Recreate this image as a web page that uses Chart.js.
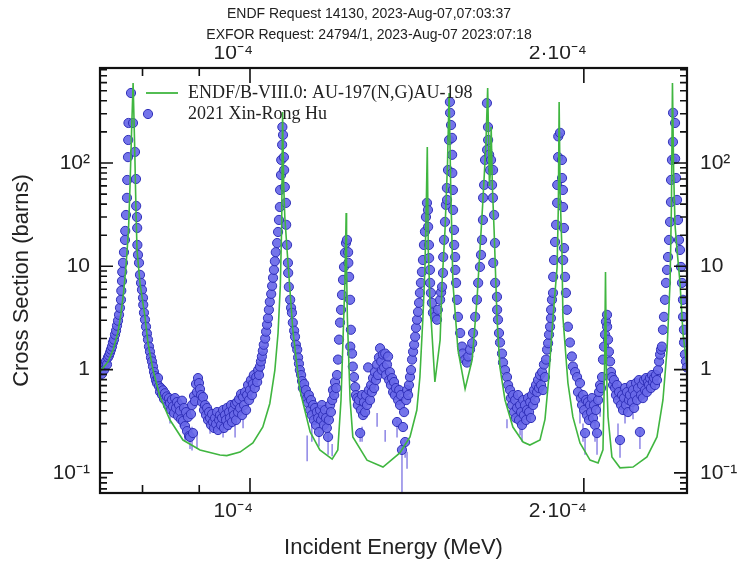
<!DOCTYPE html>
<html lang="en">
<head>
    <meta charset="UTF-8">
    <title>Au-197 (n,g) cross section</title>
    <script src="https://cdn.jsdelivr.net/npm/chart.js@4.4.1/dist/chart.umd.min.js"></script>
    <style>
        html, body { margin: 0; padding: 0; background: #fff; }
        #wrap { width: 738px; height: 563px; }
    </style>
</head>
<body>
<div id="wrap"><canvas id="plot" width="738" height="563"></canvas></div>
<script>
// header lines and labels
const headerLines = ['ENDF Request 14130, 2023-Aug-07,07:03:37', 'EXFOR Request: 24794/1, 2023-Aug-07 2023:07:18'];
const endfLabel = 'ENDF/B-VIII.0: AU-197(N,G)AU-198';
const exforLabel = '2021 Xin-Rong Hu';

// axis ranges (MeV, barns)
const xRange = [7.324e-5, 2.4777e-4];
const yRange = [0.0639, 831];
const xMajorTicks = [1e-4, 2e-4];
const xMajorLabels = ['10⁻⁴', '2·10⁻⁴'];
const xMinorTicks = [8e-5, 9e-5];
const yMajorTicks = [0.1, 1, 10, 100];
const yMajorLabels = ['10⁻¹', '1', '10', '10²'];

// ENDF/B-VIII.0 evaluated curve, energy in eV, cross section in barns
const endfEnergyEv = [
    73.24, 74.5, 75.25, 76.03, 76.5, 76.9, 77.3, 77.7, 77.95, 78.2, 78.45, 78.7, 78.9, 79.09, 79.58,
    80.41, 80.91, 81.76, 82.96, 84.70, 87.01, 90.14, 93.96, 95.3, 97.95, 100.6, 102.7, 104.2, 105.3,
    106.0, 106.5, 106.8, 107.0, 107.25, 107.5, 108.0, 109.3, 110.9, 113.3, 115.6, 118.6, 120.0, 120.8,
    121.3, 121.8, 122.1, 122.2, 122.4, 123.1, 123.8, 127.5, 131.8, 136.5, 139.4, 141.4, 142.3, 143.2,
    143.8, 144.2, 144.5, 144.8, 145.3, 146.8, 148.4, 149.0, 149.9, 150.7, 151.2, 151.7, 152.4, 154.0,
    156.3, 158.6, 160.2, 161.2, 162.2, 163.2, 163.8, 164.4, 164.7, 165.0, 165.4, 166.0, 167.0, 168.0,
    169.8, 172.6, 176.3, 178.8, 182.6, 184.5, 185.8, 187.6, 189.2, 189.7, 190.0, 190.4, 191.1, 191.5,
    193.5, 195.5, 198.4, 202.6, 206.0, 208.1, 208.8, 209.2, 209.6, 210.3, 212.0, 215.6, 221.5, 228.0,
    232.8, 235.7, 237.7, 239.2, 239.9, 240.4, 241.0, 241.7, 242.7, 244.2, 245.7, 247.77
];
const endfSigma = [
    0.95, 1.2, 1.55, 2.3, 3.5, 5.5, 10, 22, 60, 200, 595, 150, 40, 14.4, 6.89,
    3.23, 1.81, 0.99, 0.543, 0.325, 0.208, 0.167, 0.149, 0.147, 0.159, 0.195, 0.278, 0.47, 0.99,
    2.26, 6.5, 25, 312, 60, 30, 14.4, 2.43, 0.635, 0.249, 0.167, 0.136, 0.167, 0.508,
    1.94, 7.4, 32.8, 10, 3.23, 0.508, 0.223, 0.133, 0.114, 0.156, 0.223, 0.406, 0.848, 3.23,
    9.85, 40, 143, 14.4, 4.72, 0.759, 1.94, 6.89, 22, 100, 476, 60, 6.89, 1.548,
    0.649, 1.239, 4.72, 14.4, 44, 150, 532, 60, 80, 223, 60, 22.5, 3.23, 1.06,
    0.508, 0.278, 0.199, 0.186, 0.208, 0.33, 0.75, 3.23, 9.85, 40, 390, 50, 14.4, 3.23,
    0.742, 0.348, 0.195, 0.133, 0.125, 0.167, 1.06, 8.81, 1.0, 0.348, 0.143, 0.112, 0.114, 0.143,
    0.223, 0.508, 1.548, 6.89, 40, 595, 80, 25, 14.4, 6.89, 2.26, 1.06
];

// EXFOR 24794 data points, energy in eV, cross section in barns
const dataEnergyEv = [
    73.24, 73.39, 73.54, 73.69, 73.85, 74.00, 74.15, 74.31, 74.46, 74.62,
    74.78, 74.93, 75.09, 75.24, 75.40, 75.56, 75.72, 75.87, 76.03, 76.19,
    76.34, 76.50, 76.55, 76.66, 76.70, 76.82, 76.98, 77.14, 77.18, 77.30,
    77.46, 77.50, 77.62, 77.66, 77.70, 78.11, 78.43, 78.76, 78.92, 78.95,
    79.09, 79.12, 79.15, 79.25, 79.42, 79.58, 79.75, 79.91, 80.08, 80.12,
    80.24, 80.41, 80.58, 80.74, 80.91, 81.08, 81.25, 81.42, 81.59, 81.76,
    81.93, 82.10, 82.27, 82.44, 82.61, 82.79, 82.96, 83.13, 83.30, 83.47,
    83.65, 83.82, 84.00, 84.17, 84.35, 84.52, 84.70, 84.88, 85.05, 85.23,
    85.41, 85.58, 85.76, 85.94, 86.12, 86.30, 86.48, 86.66, 86.84, 87.01,
    87.20, 87.38, 87.56, 87.74, 87.92, 88.11, 88.29, 88.47, 88.66, 88.84,
    89.03, 89.21, 89.40, 89.58, 89.77, 89.95, 90.14, 90.33, 90.51, 90.70,
    90.89, 91.09, 91.28, 91.47, 91.66, 91.85, 92.04, 92.23, 92.43, 92.62,
    92.81, 93.00, 93.20, 93.39, 93.58, 93.78, 93.97, 94.17, 94.36, 94.56,
    94.75, 94.95, 95.15, 95.34, 95.54, 95.74, 95.94, 96.14, 96.34, 96.54,
    96.74, 96.95, 97.15, 97.35, 97.55, 97.76, 97.96, 98.16, 98.37, 98.57,
    98.78, 98.98, 99.19, 99.40, 99.60, 99.81, 100.0, 100.2, 100.4, 100.6,
    100.8, 101.0, 101.3, 101.5, 101.7, 101.9, 102.1, 102.3, 102.5, 102.7,
    102.9, 103.2, 103.4, 103.6, 103.8, 104.0, 104.2, 104.5, 104.7, 104.9,
    105.1, 105.3, 105.5, 105.8, 106.0, 106.2, 106.4, 106.45, 106.65, 106.7,
    106.9, 106.95, 107.1, 107.3, 107.35, 107.5, 107.75, 107.8, 108.0, 108.2,
    108.25, 108.4, 108.7, 108.9, 109.1, 109.3, 109.6, 109.8, 110.0, 110.3,
    110.5, 110.7, 110.9, 111.2, 111.4, 111.6, 111.9, 112.1, 112.3, 112.6,
    112.8, 113.0, 113.3, 113.5, 113.7, 114.0, 114.2, 114.45, 114.7, 114.9,
    115.2, 115.4, 115.65, 115.9, 116.1, 116.4, 116.6, 116.85, 117.1, 117.3,
    117.6, 117.8, 118.1, 118.3, 118.6, 118.8, 119.1, 119.3, 119.6, 119.8,
    120.05, 120.3, 120.55, 120.8, 121.05, 121.3, 121.55, 121.8, 122.05, 122.3,
    122.6, 122.65, 122.85, 123.1, 123.3, 123.15, 123.6, 123.8, 124.1, 124.4,
    124.6, 124.9, 125.1, 125.4, 125.7, 125.9, 126.2, 126.45, 126.7, 127.0,
    127.25, 127.5, 127.8, 128.0, 128.3, 128.6, 128.8, 129.1, 129.4, 129.6,
    129.9, 130.2, 130.45, 130.7, 131.0, 131.3, 131.5, 131.8, 132.1, 132.4,
    132.6, 132.9, 133.2, 133.5, 133.7, 134.0, 134.3, 134.6, 134.85, 135.1,
    135.4, 135.7, 136.0, 136.3, 136.55, 136.8, 137.1, 137.4, 137.7, 138.0,
    138.3, 138.55, 138.85, 139.1, 139.4, 139.7, 140.0, 140.3, 140.6, 140.9,
    141.15, 141.45, 141.75, 142.05, 142.3, 142.6, 142.9, 143.2, 143.5, 143.8,
    144.1, 144.4, 144.7, 144.75, 145.0, 145.05, 145.3, 145.35, 145.6, 145.9,
    146.2, 146.8, 147.45, 147.7, 148.4, 148.7, 149.0, 149.3, 149.35, 149.6,
    149.9, 150.2, 150.5, 150.55, 150.85, 151.2, 151.5, 151.45, 151.8, 152.1,
    152.15, 152.2, 152.4, 152.45, 152.75, 152.8, 153.1, 153.15, 153.4, 153.7,
    154.0, 154.7, 155.3, 155.6, 156.3, 156.9, 157.3, 157.9, 158.6, 158.9,
    159.6, 160.2, 160.6, 161.2, 161.55, 161.9, 162.2, 162.25, 162.6, 162.9,
    163.6, 163.55, 163.9, 163.95, 164.3, 164.6, 164.95, 165.3, 165.6, 165.65,
    166.0, 166.3, 165.7, 166.35, 167.0, 167.05, 167.35, 167.7, 168.05, 168.75,
    169.1, 169.8, 170.5, 170.9, 171.6, 171.9, 172.3, 172.65, 173.0, 173.4,
    173.7, 174.1, 174.45, 174.8, 175.2, 175.55, 175.9, 176.3, 176.6, 177.0,
    177.4, 177.75, 178.1, 178.5, 178.9, 179.2, 179.6, 180.0, 180.35, 180.7,
    181.1, 181.5, 181.85, 182.2, 182.6, 183.0, 183.4, 183.75, 184.1, 184.5,
    184.9, 185.3, 185.7, 186.05, 186.45, 186.8, 186.85, 187.2, 187.6, 187.65,
    188.0, 188.4, 188.8, 189.2, 189.25, 189.6, 189.65, 190.35, 191.1, 191.15,
    191.5, 191.55, 191.95, 191.9, 191.6, 192.35, 192.7, 193.1, 193.5, 194.3,
    195.1, 195.5, 196.4, 197.2, 197.6, 198.4, 198.8, 199.25, 199.65, 200.1,
    200.5, 200.9, 201.3, 201.7, 202.15, 202.6, 203.0, 203.4, 203.85, 204.25,
    204.7, 205.1, 205.55, 206.0, 206.4, 206.85, 207.3, 207.7, 208.1, 208.55,
    209.0, 209.4, 209.85, 209.9, 210.3, 210.7, 211.2, 211.6, 212.0, 212.5,
    212.9, 213.4, 213.8, 214.25, 214.7, 215.15, 215.6, 216.05, 216.5, 216.95,
    217.4, 217.85, 218.3, 218.75, 219.2, 219.65, 220.1, 220.6, 221.05, 221.5,
    222.0, 222.4, 222.9, 223.35, 223.8, 224.25, 224.7, 225.2, 225.7, 226.1,
    226.6, 227.1, 227.55, 228.0, 228.5, 229.0, 229.45, 229.9, 230.4, 230.9,
    231.4, 231.85, 232.3, 232.8, 233.3, 233.8, 234.3, 234.75, 235.2, 235.7,
    236.2, 236.7, 237.2, 237.7, 238.2, 238.7, 239.2, 239.65, 239.7, 240.15,
    240.65, 240.7, 241.7, 241.75, 242.2, 242.7, 243.2, 243.7, 244.2, 244.7,
    245.2, 245.7, 245.75, 246.2, 246.25, 246.7, 247.2, 247.7
];
const dataSigma = [
    0.95, 0.99, 0.91, 1.10, 0.99, 1.14, 1.20, 1.12, 1.31, 1.37,
    1.46, 1.56, 1.67, 1.83, 1.95, 2.18, 2.38, 2.66, 2.97, 3.39,
    3.96, 4.74, 5.8, 7.2, 8.83, 10.8, 13.7, 18.0, 22.0, 31.4,
    46.0, 68.5, 114, 167, 244, 476, 244, 128, 70, 38.4,
    30, 23.5, 16.1, 12.9, 10.8, 8.26, 6.91, 5.92, 4.95, 4.24,
    3.55, 3.04, 2.60, 2.23, 1.95, 1.67, 1.49, 1.31, 1.20, 1.07,
    0.95, 0.866, 0.79, 0.74, 0.83, 0.69, 0.61, 0.66, 0.57, 0.63,
    0.52, 0.59, 0.50, 0.55, 0.45, 0.53, 0.475, 0.41, 0.51, 0.44,
    0.38, 0.53, 0.425, 0.485, 0.355, 0.454, 0.397, 0.33, 0.50, 0.318,
    0.425, 0.284, 0.388, 0.254, 0.347, 0.228, 0.223, 0.371, 0.454, 0.243,
    0.555, 0.496, 0.725, 0.606, 0.828, 0.741, 0.648, 0.567, 0.485, 0.542,
    0.406, 0.454, 0.363, 0.425, 0.325, 0.388, 0.340, 0.291, 0.371, 0.311,
    0.272, 0.340, 0.297, 0.388, 0.260, 0.325, 0.363, 0.291, 0.340, 0.406,
    0.272, 0.363, 0.325, 0.425, 0.291, 0.388, 0.340, 0.454, 0.311, 0.406,
    0.363, 0.464, 0.325, 0.485, 0.388, 0.519, 0.425, 0.580, 0.363, 0.542,
    0.454, 0.606, 0.406, 0.567, 0.709, 0.507, 0.634, 0.792, 0.567, 0.725,
    0.886, 0.663, 0.847, 0.758, 0.99, 0.886, 1.07, 1.20, 1.34, 1.52,
    1.74, 2.0, 2.33, 2.72, 3.15, 3.79, 4.53, 5.4, 6.46, 7.73,
    9.23, 11.2, 13.7, 16.8, 21.5, 28.1, 37.5, 54.8, 76.5, 107,
    150, 223, 187, 114, 85.5, 58.6, 41.1, 25.2, 16.1, 10.8,
    8.63, 6.32, 4.74, 3.96, 3.55, 2.85, 2.38, 2.08, 1.74, 1.56,
    1.31, 1.14, 0.99, 0.886, 0.775, 0.663, 0.725, 0.580, 0.634, 0.530,
    0.475, 0.567, 0.406, 0.507, 0.363, 0.454, 0.325, 0.425, 0.291, 0.388,
    0.340, 0.249, 0.406, 0.325, 0.454, 0.363, 0.291, 0.406, 0.340, 0.272,
    0.223, 0.325, 0.454, 0.388, 0.507, 0.634, 0.567, 0.758, 0.663, 0.886,
    1.25, 1.95, 2.85, 3.79, 5.29, 7.39, 9.86, 13.5, 16.8, 18.0,
    13.7, 10.8, 7.9, 4.74, 2.43, 1.67, 1.43, 1.07, 0.847, 0.678,
    0.567, 0.530, 0.454, 0.507, 0.243, 0.406, 0.567, 0.363, 0.485, 0.388,
    0.567, 0.454, 1.05, 0.634, 0.507, 0.709, 0.606, 0.828, 0.663, 0.947,
    0.792, 1.12, 0.886, 1.31, 1.61, 1.20, 0.99, 1.40, 1.05, 1.43,
    0.886, 1.12, 1.34, 0.792, 0.947, 0.709, 0.828, 0.606, 0.758, 0.567,
    0.663, 0.311, 0.507, 0.634, 0.454, 0.567, 0.167, 0.278, 0.388, 0.199,
    0.507, 0.634, 0.567, 0.709, 0.847, 0.99, 1.25, 1.49, 1.74, 2.08,
    2.54, 3.04, 3.62, 4.43, 5.53, 6.91, 8.83, 11.5, 16.1, 21.6,
    30.0, 41.1, 35.1, 24.1, 16.1, 12.0, 9.23, 6.91, 5.53, 4.43,
    3.55, 3.24, 3.04, 3.79, 4.74, 5.6, 6.32, 8.63, 12.3, 18.0,
    26.9, 39.3, 57.3, 43.9, 85.5, 167, 306, 390, 233, 175,
    120, 80.0, 54.8, 35.1, 22.5, 16.1, 12.3, 9.23, 6.91, 4.74,
    3.24, 2.26, 1.67, 1.43, 1.25, 1.17, 1.34, 1.56, 1.80, 2.26,
    3.24, 4.74, 6.91, 9.86, 12.9, 18.0, 28.1, 46.0, 61.3, 107,
    134, 380, 223, 167, 120, 85.5, 107, 61.3, 46.0, 85.5,
    31.4, 16.8, 10.8, 6.91, 5.06, 3.79, 3.04, 2.26, 1.83, 1.43,
    1.17, 0.99, 0.847, 0.709, 0.634, 0.530, 0.454, 0.567, 0.388, 0.507,
    0.340, 0.425, 0.567, 0.325, 0.454, 0.388, 0.291, 0.507, 0.363, 0.454,
    0.325, 0.406, 0.530, 0.388, 0.485, 0.340, 0.567, 0.454, 0.634, 0.507,
    0.709, 0.606, 0.792, 0.663, 0.886, 0.709, 0.947, 0.634, 1.12, 0.847,
    1.25, 1.56, 1.80, 2.18, 2.60, 3.15, 3.79, 4.74, 5.53, 7.9,
    11.5, 17.2, 25.2, 41.1, 61.3, 114, 181, 196, 107, 71.6,
    54.8, 37.5, 15.0, 23.5, 11.5, 7.9, 5.53, 3.79, 2.60, 1.83,
    1.34, 1.07, 0.947, 0.847, 0.606, 0.741, 0.530, 0.454, 0.567, 0.406,
    0.243, 0.507, 0.363, 0.485, 0.325, 0.454, 0.388, 0.530, 0.340, 0.454,
    0.291, 0.406, 0.243, 0.507, 0.606, 0.709, 0.663, 0.847, 1.25, 1.67,
    2.18, 2.91, 3.39, 2.60, 1.95, 1.49, 1.20, 0.947, 0.847, 0.709,
    0.792, 0.663, 0.567, 0.709, 0.507, 0.606, 0.208, 0.454, 0.567, 0.406,
    0.530, 0.663, 0.454, 0.606, 0.388, 0.507, 0.567, 0.709, 0.485, 0.634,
    0.425, 0.567, 0.741, 0.507, 0.663, 0.792, 0.249, 0.567, 0.709, 0.530,
    0.792, 0.634, 0.828, 0.606, 0.758, 0.709, 0.828, 0.663, 0.886, 0.758,
    0.828, 0.709, 0.886, 0.792, 0.99, 1.20, 1.40, 1.56, 1.67, 2.43,
    3.24, 4.74, 6.91, 9.23, 12.3, 18.0, 26.9, 41.9, 68.5, 107,
    160, 306, 244, 110, 71.6, 43.9, 28.1, 18.0, 14.4, 9.86,
    6.91, 4.74, 3.24, 2.43, 1.83, 1.40, 1.20, 1.05
];

// visible uncertainty bars: energy (eV), lower and upper ends (barns)
const barEnergyEv = [84.70, 86.48, 87.38, 88.29, 88.66, 89.58, 92.04, 93.97, 94.56, 95.94, 96.95, 98.57,
    112.6, 113.7, 115.4, 117.6, 118.6, 125.7, 126.2, 130.2, 132.4, 135.7, 137.1, 138.0, 138.55,
    170.5, 175.2, 175.9, 198.4, 199.65, 200.5, 204.7, 205.55, 206.85, 214.7, 215.6, 217.85, 221.5, 224.7];
const barLow = [0.30, 0.28, 0.20, 0.17, 0.165, 0.17, 0.24, 0.24, 0.22, 0.26, 0.22, 0.27,
    0.13, 0.20, 0.18, 0.15, 0.145, 0.20, 0.20, 0.28, 0.20, 0.22, 0.065, 0.14, 0.11,
    0.27, 0.23, 0.20, 0.30, 0.20, 0.15, 0.20, 0.15, 0.35, 0.20, 0.14, 0.30, 0.33, 0.17];
const barHigh = [0.42, 0.40, 0.29, 0.26, 0.28, 0.25, 0.35, 0.33, 0.30, 0.35, 0.30, 0.33,
    0.23, 0.30, 0.26, 0.24, 0.19, 0.26, 0.28, 0.38, 0.26, 0.32, 0.20, 0.21, 0.16,
    0.33, 0.32, 0.30, 0.40, 0.30, 0.25, 0.33, 0.24, 0.50, 0.30, 0.21, 0.45, 0.45, 0.26];

const MEV = 1e-6;
const endfPoints = endfEnergyEv.map((e, i) => ({ x: e * MEV, y: endfSigma[i] }));
const dataPoints = dataEnergyEv.map((e, i) => ({ x: e * MEV, y: dataSigma[i] }));

const SANS = "'Liberation Sans', Arial, sans-serif";
const SERIF = "'Liberation Serif', 'Times New Roman', serif";
const GREEN = 'rgb(64,182,64)';
const DOT_FILL = 'rgba(104,104,232,0.92)';
const DOT_EDGE = 'rgb(48,48,185)';

function yMinorTicks() {
    const out = [];
    [0.01, 0.1, 1, 10, 100].forEach(d => {
        for (let m = 2; m <= 9; m++) {
            const v = d * m;
            if (v > yRange[0] && v < yRange[1]) out.push(v);
        }
    });
    return out;
}

function setTicks(values) {
    return scale => { scale.ticks = values.map(v => ({ value: v })); };
}
function labelFor(values, labels) {
    return v => {
        const i = values.findIndex(t => Math.abs(t - v) / t < 1e-6);
        return i >= 0 ? labels[i] : '';
    };
}

// error bars under the markers
const errorBars = {
    id: 'errorBars',
    beforeDatasetsDraw(chart) {
        const { ctx, scales: { x, y }, chartArea: a } = chart;
        ctx.save();
        ctx.beginPath();
        ctx.rect(a.left, a.top, a.right - a.left, a.bottom - a.top);
        ctx.clip();
        ctx.strokeStyle = 'rgba(120,110,225,0.85)';
        ctx.lineWidth = 1.5;
        barEnergyEv.forEach((e, i) => {
            const px = x.getPixelForValue(e * MEV);
            ctx.beginPath();
            ctx.moveTo(px, y.getPixelForValue(barHigh[i]));
            ctx.lineTo(px, y.getPixelForValue(barLow[i]));
            ctx.stroke();
        });
        ctx.restore();
    }
};

// frame with inward ticks on all four sides, plus the legend box
const frameAndLegend = {
    id: 'frameAndLegend',
    afterDraw(chart) {
        const { ctx, chartArea: a, scales } = chart;
        ctx.save();
        ctx.strokeStyle = '#111';
        ctx.lineWidth = 1.6;
        const yTick = (v, len) => {
            const p = scales.y.getPixelForValue(v);
            if (p < a.top || p > a.bottom) return;
            ctx.beginPath();
            ctx.moveTo(a.left, p); ctx.lineTo(a.left + len, p);
            ctx.moveTo(a.right, p); ctx.lineTo(a.right - len, p);
            ctx.stroke();
        };
        const xTick = (v, len) => {
            const p = scales.x.getPixelForValue(v);
            if (p < a.left || p > a.right) return;
            ctx.beginPath();
            ctx.moveTo(p, a.bottom); ctx.lineTo(p, a.bottom - len);
            ctx.moveTo(p, a.top); ctx.lineTo(p, a.top + len);
            ctx.stroke();
        };
        yMinorTicks().forEach(v => yTick(v, 7));
        yMajorTicks.forEach(v => yTick(v, 13));
        xMinorTicks.forEach(v => xTick(v, 8));
        xMajorTicks.forEach(v => xTick(v, 15));
        ctx.lineWidth = 2.2;
        ctx.strokeRect(a.left, a.top, a.right - a.left, a.bottom - a.top);

        // legend
        const lx = a.left + 46, ly1 = a.top + 25, ly2 = a.top + 46;
        ctx.strokeStyle = GREEN;
        ctx.lineWidth = 1.8;
        ctx.beginPath();
        ctx.moveTo(lx, ly1); ctx.lineTo(lx + 32, ly1);
        ctx.stroke();
        ctx.fillStyle = DOT_FILL;
        ctx.strokeStyle = DOT_EDGE;
        ctx.lineWidth = 1;
        ctx.beginPath();
        ctx.arc(lx + 2, ly2, 4.6, 0, Math.PI * 2);
        ctx.fill(); ctx.stroke();
        ctx.fillStyle = '#222';
        ctx.font = '18px ' + SERIF;
        ctx.textBaseline = 'middle';
        ctx.textAlign = 'left';
        ctx.fillText(chart.data.datasets[0].label, lx + 42, ly1);
        ctx.fillText(chart.data.datasets[1].label, lx + 42, ly2);
        ctx.restore();
    }
};

const tickFont = { family: SANS, size: 21 };

new Chart(document.getElementById('plot'), {
    data: {
        datasets: [
            {
                type: 'line',
                label: endfLabel,
                data: endfPoints,
                borderColor: GREEN,
                borderWidth: 1.6,
                pointRadius: 0,
                tension: 0,
                fill: false,
                order: 0
            },
            {
                type: 'scatter',
                label: exforLabel,
                data: dataPoints,
                backgroundColor: DOT_FILL,
                borderColor: DOT_EDGE,
                borderWidth: 1,
                pointRadius: 4.6,
                clip: 0,
                order: 1
            }
        ]
    },
    options: {
        responsive: false,
        animation: false,
        devicePixelRatio: 1,
        layout: { padding: 0 },
        plugins: {
            legend: { display: false },
            tooltip: { enabled: false },
            title: {
                display: true,
                text: headerLines,
                color: '#222',
                font: { family: SANS, size: 14, lineHeight: '21px', weight: 'normal' },
                padding: { top: 4, bottom: 0 }
            }
        },
        scales: {
            x: {
                type: 'logarithmic',
                position: 'bottom',
                bounds: 'data',
                min: xRange[0], max: xRange[1],
                afterBuildTicks: setTicks(xMajorTicks),
                afterFit: s => { s.height = 70; },
                grid: { display: false, drawTicks: false },
                border: { display: false },
                ticks: {
                    autoSkip: false, maxRotation: 0, align: 'end', padding: 6, labelOffset: 3,
                    color: '#222', font: tickFont,
                    callback: labelFor(xMajorTicks, xMajorLabels)
                },
                title: {
                    display: true, text: 'Incident Energy (MeV)', color: '#222',
                    font: { family: SANS, size: 22 }, padding: { top: 0, bottom: 2 }
                }
            },
            x2: {
                type: 'logarithmic',
                position: 'top',
                bounds: 'data',
                min: xRange[0], max: xRange[1],
                afterBuildTicks: setTicks(xMajorTicks),
                afterFit: s => { s.height = 22; },
                grid: { display: false, drawTicks: false },
                border: { display: false },
                ticks: {
                    autoSkip: false, maxRotation: 0, align: 'end', padding: 2, labelOffset: 3,
                    color: '#222', font: tickFont,
                    callback: labelFor(xMajorTicks, xMajorLabels)
                }
            },
            y: {
                type: 'logarithmic',
                position: 'left',
                bounds: 'data',
                min: yRange[0], max: yRange[1],
                afterBuildTicks: setTicks(yMajorTicks),
                afterFit: s => { s.width = 100; },
                grid: { display: false, drawTicks: false },
                border: { display: false },
                ticks: {
                    autoSkip: false, padding: 10, color: '#222', font: tickFont,
                    callback: labelFor(yMajorTicks, yMajorLabels)
                },
                title: {
                    display: true, text: 'Cross Section (barns)', color: '#222',
                    font: { family: SANS, size: 22 }, padding: { top: 9, bottom: 0 }
                }
            },
            y2: {
                type: 'logarithmic',
                position: 'right',
                bounds: 'data',
                min: yRange[0], max: yRange[1],
                afterBuildTicks: setTicks(yMajorTicks),
                afterFit: s => { s.width = 51; },
                grid: { display: false, drawTicks: false },
                border: { display: false },
                ticks: {
                    autoSkip: false, padding: 13, color: '#222', font: tickFont,
                    callback: labelFor(yMajorTicks, yMajorLabels)
                }
            }
        }
    },
    plugins: [errorBars, frameAndLegend]
});
</script>
</body>
</html>
